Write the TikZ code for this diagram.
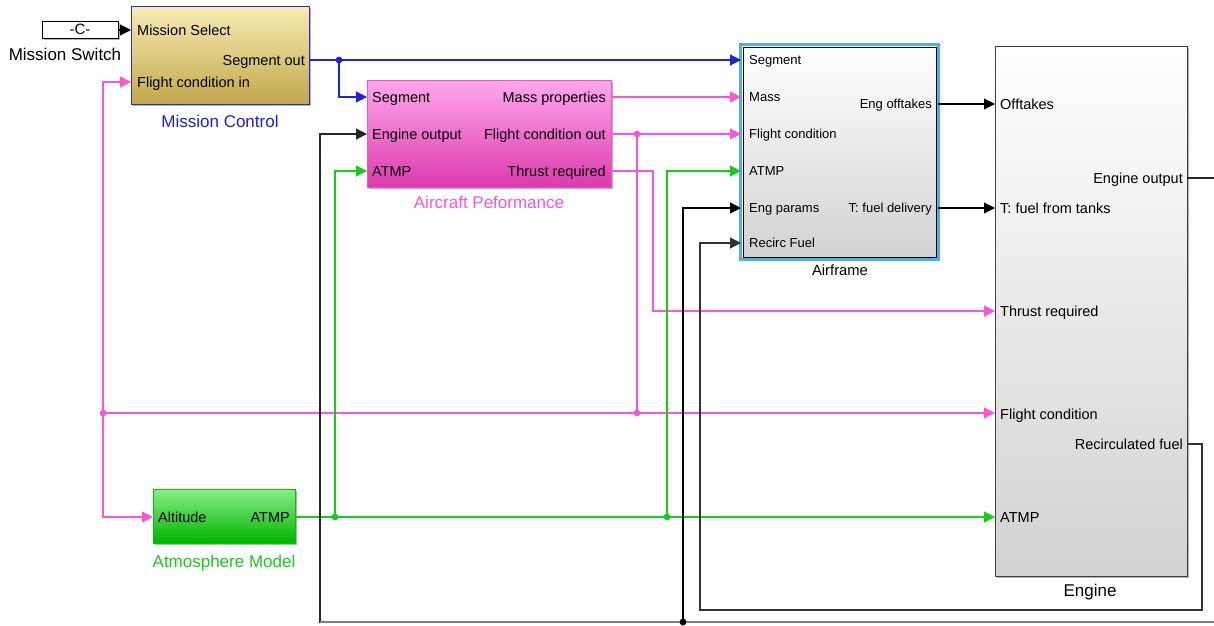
\documentclass[tikz,border=0pt]{standalone}
\usepackage{fontspec}
\setmainfont{Liberation Sans}
\usetikzlibrary{arrows.meta,shadows}
\definecolor{mcborder}{HTML}{2A2AE0}
\definecolor{mctop}{HTML}{F7ECB4}
\definecolor{mcbot}{HTML}{C2A84A}
\definecolor{mclabel}{HTML}{1E1EE0}
\definecolor{aptop}{HTML}{FFA8EC}
\definecolor{apbot}{HTML}{DC3AAE}
\definecolor{apborder}{HTML}{FF4CCF}
\definecolor{pinkline}{HTML}{FF55D5}
\definecolor{attop}{HTML}{8AEE8A}
\definecolor{atbot}{HTML}{00B400}
\definecolor{atborder}{HTML}{00C400}
\definecolor{greenline}{HTML}{1ACC1A}
\definecolor{blueline}{HTML}{2020DD}
\definecolor{afblue}{HTML}{4CB0EC}
\definecolor{graytop}{HTML}{FFFFFF}
\definecolor{graybot}{HTML}{D2D2D2}
\begin{document}
\begin{tikzpicture}[x=1pt,y=-1pt,
  blk/.style={inner sep=0pt, outer sep=0pt, anchor=north west, line width=1pt,
    drop shadow={shadow xshift=1.8pt, shadow yshift=-1.8pt, fill=black, opacity=0.3}},
  portl/.style={inner sep=0pt, font=\fontsize{14.5}{16}\selectfont, text height=10.4pt, text depth=0pt, anchor=west},
  portr/.style={portl, anchor=east},
  sportl/.style={inner sep=0pt, font=\fontsize{13}{14}\selectfont, text height=9.3pt, text depth=0pt, anchor=west},
  sportr/.style={sportl, anchor=east},
  title/.style={inner sep=0pt, font=\fontsize{17}{19}\selectfont, text height=12.2pt, text depth=0pt, anchor=center},
  sig/.style={line width=1.1pt, -{Triangle[length=11pt,width=11pt]}},
  wire/.style={line width=1.1pt}
]
\useasboundingbox[fill=white] (0,0) rectangle (1214,625);

% ---------------- blocks ----------------
\node[blk, draw=black, fill=white, minimum width=76pt, minimum height=17pt] (cst) at (42,21) {};
\node[inner sep=0pt, font=\fontsize{15}{16}\selectfont] at (cst.center) {-C-};
\node[title] (cstl) at (65,54) {Mission Switch};

\node[blk, draw=mcborder, top color=mctop, bottom color=mcbot, minimum width=178pt, minimum height=98pt] (mc) at (131,6) {};
\node[title, text=mclabel] (mcl) at (220,121) {Mission Control};

\node[blk, draw=apborder, top color=aptop, bottom color=apbot, minimum width=244pt, minimum height=107pt] (ap) at (367,80) {};
\node[title, text=pinkline] (apl) at (489,202) {Aircraft Peformance};

\node[blk, draw=black, top color=graytop, bottom color=graybot, minimum width=193pt, minimum height=210pt] (af) at (743,47) {};
\draw[afblue, line width=3pt] ([shift={(-2.2,-2.2)}]af.north west) rectangle ([shift={(2.2,2.2)}]af.south east);
\node[title, font=\fontsize{14.8}{16}\selectfont, text height=10.6pt] (afl) at (840,270) {Airframe};

\node[blk, draw=black!75, top color=graytop, bottom color=graybot, minimum width=192pt, minimum height=530pt] (en) at (995,46) {};
\node[title] (enl) at (1090,590) {Engine};

\node[blk, draw=atborder, top color=attop, bottom color=atbot, minimum width=142pt, minimum height=54pt] (at) at (153,489) {};
\node[title, text=greenline] (atl) at (224,561) {Atmosphere Model};

% ---------------- port labels ----------------
\node[portl] at (137,30) {Mission Select};
\node[portl] at (137,82) {Flight condition in};
\node[portr] at (305,60) {Segment out};

\node[portl] at (372,97) {Segment};
\node[portl] at (372,134) {Engine output};
\node[portl] at (372,171) {ATMP};
\node[portr] at (606,97) {Mass properties};
\node[portr] at (606,134) {Flight condition out};
\node[portr] at (606,171) {Thrust required};

\node[sportl] at (749,60) {Segment};
\node[sportl] at (749,97) {Mass};
\node[sportl] at (749,134) {Flight condition};
\node[sportl] at (749,171) {ATMP};
\node[sportl] at (749,208) {Eng params};
\node[sportl] at (749,243) {Recirc Fuel};
\node[sportr] at (932,104) {Eng offtakes};
\node[sportr] at (932,208) {T: fuel delivery};

\node[portl] at (1000,104) {Offtakes};
\node[portl] at (1000,208) {T: fuel from tanks};
\node[portl] at (1000,311) {Thrust required};
\node[portl] at (1000,414) {Flight condition};
\node[portl] at (1000,517) {ATMP};
\node[portr] at (1183,178) {Engine output};
\node[portr] at (1183,444) {Recirculated fuel};

\node[portl] at (158,517) {Altitude};
\node[portr] at (290,517) {ATMP};

% ---------------- port coordinates ----------------
\coordinate (cst-o) at (cst.east |- 0,30);
\coordinate (mc-ms) at (mc.west |- 0,30);
\coordinate (mc-fc) at (mc.west |- 0,82);
\coordinate (mc-so) at (mc.east |- 0,60);
\coordinate (ap-seg) at (ap.west |- 0,97);
\coordinate (ap-eo) at (ap.west |- 0,134);
\coordinate (ap-atmp) at (ap.west |- 0,171);
\coordinate (ap-mass) at (ap.east |- 0,97);
\coordinate (ap-fco) at (ap.east |- 0,134);
\coordinate (ap-thr) at (ap.east |- 0,171);
\coordinate (af-seg) at ([xshift=-2pt]af.west |- 0,60);
\coordinate (af-mass) at ([xshift=-2pt]af.west |- 0,97);
\coordinate (af-fc) at ([xshift=-2pt]af.west |- 0,134);
\coordinate (af-atmp) at ([xshift=-2pt]af.west |- 0,171);
\coordinate (af-ep) at ([xshift=-2pt]af.west |- 0,208);
\coordinate (af-rf) at ([xshift=-2pt]af.west |- 0,243);
\coordinate (af-off) at ([xshift=2pt]af.east |- 0,104);
\coordinate (af-fd) at ([xshift=2pt]af.east |- 0,208);
\coordinate (en-off) at (en.west |- 0,104);
\coordinate (en-ft) at (en.west |- 0,208);
\coordinate (en-thr) at (en.west |- 0,311);
\coordinate (en-fc) at (en.west |- 0,413);
\coordinate (en-atmp) at (en.west |- 0,517);
\coordinate (en-eo) at (en.east |- 0,178);
\coordinate (en-rf) at (en.east |- 0,444);
\coordinate (at-alt) at (at.west |- 0,517);
\coordinate (at-o) at (at.east |- 0,517);

% junctions
\coordinate (jseg) at (339,60);
\coordinate (jfc1) at (637,134);
\coordinate (jfc2) at (637,413);
\coordinate (jfc3) at (103,413);
\coordinate (jat1) at (335,517);
\coordinate (jat2) at (667,517);
\coordinate (jeo) at (683,622);

% ---------------- connectors ----------------
\draw[sig, black] (cst-o) -- (mc-ms);

\draw[sig, blueline] (mc-so) -- (af-seg);
\draw[sig, blueline] (jseg) |- (ap-seg);

\draw[sig, pinkline] (ap-mass) -- (af-mass);
\draw[sig, pinkline] (ap-fco) -- (af-fc);
\draw[wire, pinkline] (jfc1) -- (jfc2);
\draw[sig, pinkline] (jfc3) -- (en-fc);
\draw[sig, pinkline] (jfc3) |- (mc-fc);
\draw[sig, pinkline] (jfc3) |- (at-alt);
\draw[sig, pinkline] (ap-thr) -- (653,171) |- (en-thr);

\draw[sig, greenline] (at-o) -- (en-atmp);
\draw[sig, greenline] (jat1) |- (ap-atmp);
\draw[sig, greenline] (jat2) |- (af-atmp);

\draw[sig, black] (af-off) -- (en-off);
\draw[sig, black] (af-fd) -- (en-ft);

\draw[sig, black!85] (en-eo) -- (1218,178) -- (1218,622) -- (320,622) |- (ap-eo);
\draw[black!50, line width=1.8pt] (1218,622) -- (320,622);
\draw[sig, black] (jeo) |- (af-ep);
\draw[sig, black!80] (en-rf) -- (1202,444) -- (1202,610) -- (700,610) |- (af-rf);

% junction dots
\fill[blueline] (jseg) circle (3.4pt);
\fill[pinkline] (jfc1) circle (3.4pt);
\fill[pinkline] (jfc2) circle (3.4pt);
\fill[pinkline] (jfc3) circle (3.4pt);
\fill[greenline] (jat1) circle (3.4pt);
\fill[greenline] (jat2) circle (3.4pt);
\fill[black] (jeo) circle (3.4pt);
\end{tikzpicture}
\end{document}
